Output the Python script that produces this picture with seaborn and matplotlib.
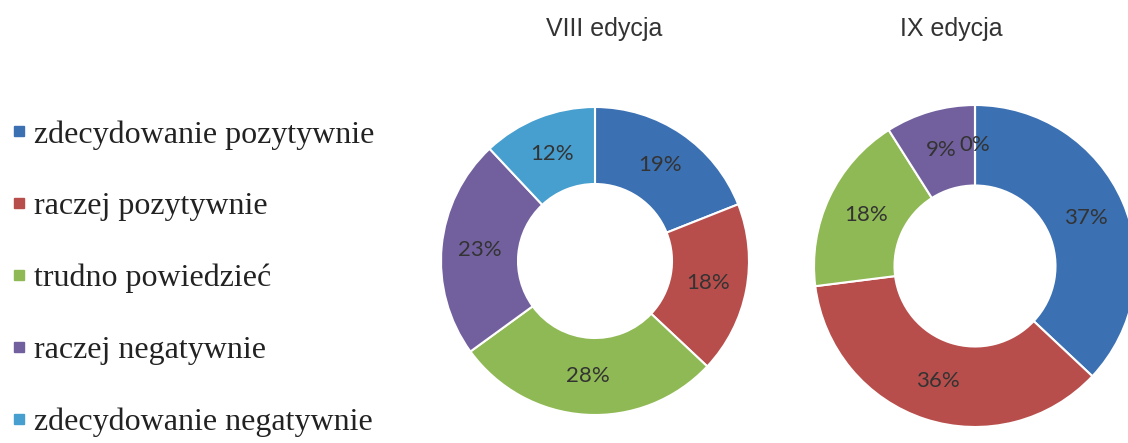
import numpy as np
import matplotlib
matplotlib.use("Agg")
import matplotlib.pyplot as plt
import seaborn as sns
from matplotlib.lines import Line2D

categories = ["zdecydowanie pozytywnie", "raczej pozytywnie", "trudno powiedzieć",
              "raczej negatywnie", "zdecydowanie negatywnie"]
edition_titles = ["VIII edycja", "IX edycja"]
viii_values = [19, 18, 28, 23, 12]
ix_values = [37, 36, 18, 9, 0]

colors = ["#3b70b3", "#b84e4b", "#8fb954", "#72609e", "#469fcf"]

sns.set_theme(style="white")

W, H = 1128, 443
fig = plt.figure(figsize=(W / 100, H / 100), dpi=100)
fig.patch.set_facecolor("white")


def donut(cx, cy, r, values, title, title_x):
    ax = fig.add_axes([(cx - r) / W, (H - cy - r) / H, 2 * r / W, 2 * r / H])
    ax.pie(values, colors=colors, startangle=90, counterclock=False, radius=1,
           wedgeprops=dict(width=0.5, edgecolor="white", linewidth=1.5))
    ax.set_xlim(-1, 1)
    ax.set_ylim(-1, 1)
    ax.set_aspect("equal")
    ax.axis("off")
    # percentage labels in the middle of the ring
    start = 90.0
    for v in values:
        mid = np.deg2rad(start - v * 3.6 / 2)
        ax.text(0.75 * np.cos(mid), 0.75 * np.sin(mid), f"{v}%",
                ha="center", va="center", fontsize=16, color="#333333",
                family="Lato")
        start -= v * 3.6
    fig.text(title_x / W, 1 - 29 / H, title, ha="center", va="center",
             fontsize=18, color="#333333", family="Liberation Sans")


donut(595, 261, 154, viii_values, edition_titles[0], 604)
donut(975, 266, 161, ix_values, edition_titles[1], 951)

handles = [Line2D([0], [0], marker="s", linestyle="", markersize=7.5,
                  markerfacecolor=c, markeredgecolor=c) for c in colors]
fig.legend(handles, categories, loc="upper left", bbox_to_anchor=(9.5 / W, 1 - 120 / H),
           frameon=False, handlelength=0.6, handletextpad=0.17, labelspacing=1.33,
           prop={"family": "Liberation Serif", "size": 23}, labelcolor="#222222",
           borderaxespad=0, borderpad=0)

fig.savefig("out.png", dpi=100, facecolor="white")
